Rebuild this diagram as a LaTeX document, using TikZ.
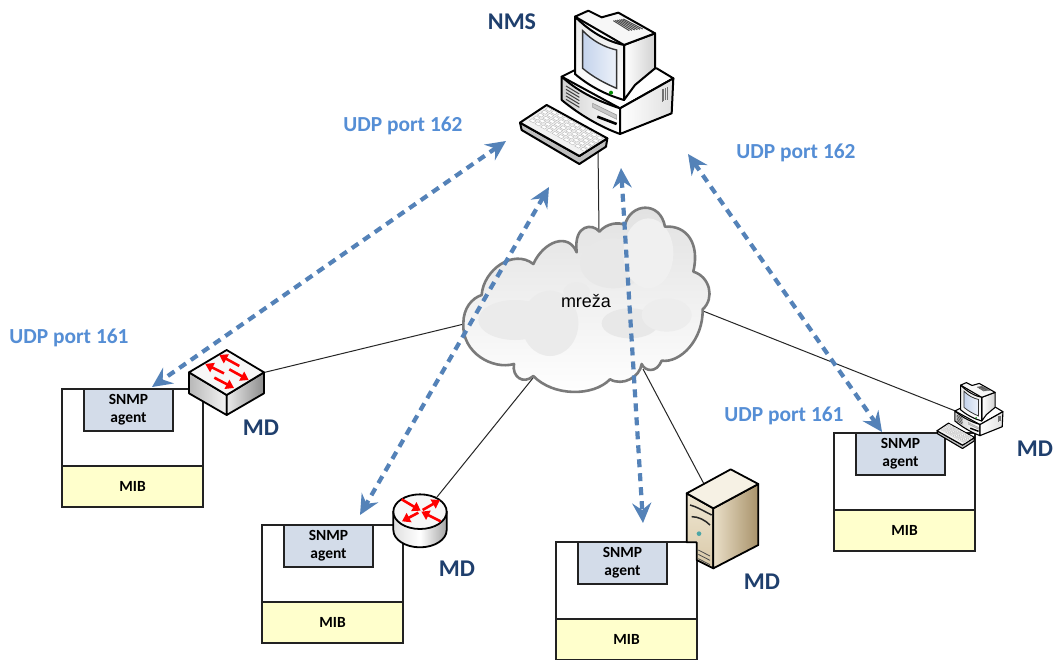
\documentclass[tikz,border=0pt]{standalone}
\usepackage{fontspec}
\setmainfont{Carlito}
\newfontfamily\arialf{Liberation Sans}
\usetikzlibrary{arrows.meta}
\definecolor{udpblue}{HTML}{558ED5}
\definecolor{mdblue}{HTML}{1F3F6D}
\definecolor{arrblue}{HTML}{5482B8}
\definecolor{agentfill}{HTML}{D3DCE9}
\definecolor{mibfill}{HTML}{FFFFCC}
\definecolor{frameink}{HTML}{222222}
\definecolor{srvtop}{HTML}{F6F1E4}
\definecolor{srvfront}{HTML}{EFE6D2}
\definecolor{srvfrontb}{HTML}{D9C9A8}
\definecolor{srvside}{HTML}{EADFC8}
\definecolor{srvsideb}{HTML}{A8926A}
\definecolor{screena}{HTML}{C4D3EC}
\tikzset{
  x=1pt,y=-1pt,
  link/.style={draw=black!85,line width=1pt},
  udparrow/.style={draw=arrblue,line width=4.2pt,dash pattern=on 8pt off 6pt,
    {Stealth[length=20pt,width=19pt,inset=7pt,fill=arrblue]}-{Stealth[length=20pt,width=19pt,inset=7pt,fill=arrblue]}},
  udplabel/.style={text=udpblue,font=\fontsize{21.4}{25}\selectfont\bfseries,inner sep=0pt},
  mdlabel/.style={text=mdblue,font=\fontsize{24}{28}\selectfont\bfseries,inner sep=0pt},
  mdframe/.style={draw=frameink,fill=white,line width=1.6pt,minimum width=141pt,minimum height=118pt,inner sep=0pt,outer sep=0pt},
  mibbox/.style={draw=frameink,fill=mibfill,line width=1.6pt,minimum width=141pt,minimum height=41pt,inner sep=0pt,outer sep=0pt,font=\fontsize{15.5}{18}\selectfont\bfseries},
  agentbox/.style={draw=frameink,fill=agentfill,line width=1.6pt,minimum width=89pt,minimum height=42pt,inner sep=0pt,outer sep=0pt,align=center,font=\fontsize{15.5}{18}\selectfont\bfseries},
  redarrow/.style={draw=red,line width=2.6pt,-{Triangle[length=8pt,width=10pt,fill=red]}},
  iconedge/.style={draw=black,line join=round},
}
\newcommand{\mdbox}[3]{%
  \node[mdframe,anchor=north west] (#1frame) at (#2,#3) {};
  \node[mibbox,anchor=south west] (#1mib) at (#1frame.south west) {MIB};
  \node[agentbox,anchor=north west,xshift=22pt] (#1agent) at (#1frame.north west) {\raisebox{-2pt}{SNMP}\\\raisebox{-2pt}{agent}};
}
% PC icon in zoom coordinates of the big computer
\newcommand{\pcicon}[4]{%
\begin{scope}[shift={(#1,#2)},scale=#3/3,line width=#4]
  % base
  \path[iconedge,fill=white] (185,230) -- (225,210) -- (470,205) -- (520,235) -- (360,325) -- cycle;
  \path[iconedge,left color=black!18,right color=white] (185,230) .. controls (240,280) and (300,305) .. (360,325) -- (360,402) .. controls (300,380) and (240,345) .. (185,300) -- cycle;
  \path[iconedge,left color=white,right color=black!12] (360,325) -- (520,235) -- (515,340) -- (360,402) -- cycle;
  % monitor
  \path[iconedge,left color=white,right color=black!18] (372,135) -- (465,100) -- (465,205) -- (405,255) -- (372,300) -- cycle;
  \path[iconedge,fill=black!3] (225,50) -- (265,32) -- (305,52) -- (355,38) -- (465,100) -- (372,135) -- cycle;
  \path[iconedge,top color=black!8,bottom color=white] (225,50) .. controls (275,100) and (325,125) .. (372,135) -- (372,300) .. controls (320,285) and (270,260) .. (225,222) -- cycle;
  \path[draw=black!80,line width=0.7*#4,left color=screena,right color=screena!30] (248,92) .. controls (280,125) and (315,142) .. (350,150) -- (350,265) .. controls (315,250) and (280,232) .. (248,205) -- cycle;
  \fill[green!55!black] (333,278) circle (6);
  \foreach \k in {0,1,2,3,4}
    \draw[black!75,line width=0.5*#4] (198,{258+\k*10}) -- (238,{282+\k*10});
  \foreach \k in {0,1,2,3,4,5}
    \draw[black!70,line width=0.5*#4] ({340+\k*6},{62-\k*1}) -- ({388+\k*8},{92-\k*1});
  \foreach \k in {0,1,2,3}
    \draw[black!55,line width=0.4*#4] ({486+\k*5},{268-\k*2}) -- ({486+\k*5},{305-\k*2});
  \path[fill=black!22,draw=black!40,line width=0.3*#4] (278,310) -- (350,345) -- (350,358) -- (278,322) -- cycle;
  \draw[black,line width=1.3*#4] (292,350) -- (350,372);
  % keyboard
  \path[iconedge,fill=black!25] (60,368) -- (238,468) -- (322,415) -- (318,440) -- (238,492) -- (65,390) -- cycle;
  \path[iconedge,fill=black!5] (60,368) -- (140,315) -- (322,415) -- (238,468) -- cycle;
  \foreach \i in {0,...,9}
    \foreach \j in {0,...,4}
      \fill[white,draw=black!28,line width=0.2*#4]
        ({88+\i*17+\j*12},{362+\i*9.5-\j*8.5}) -- ++(12,6.5) -- ++(8,-6) -- ++(-12,-6.5) -- cycle;
\end{scope}}
\begin{document}
\begin{tikzpicture}
\useasboundingbox (0,0) rectangle (1055,659);
\fill[white] (0,0) rectangle (1055,659);
% connector ends
\coordinate (nms) at (598,148);
\coordinate (cloudT) at (599,232);
\coordinate (cloudL) at (464,324);
\coordinate (cloudB) at (533,378);
\coordinate (cloudS) at (643,369);
\coordinate (cloudR) at (703,311);
\coordinate (switch) at (262,373);
\coordinate (router) at (437,497);
\coordinate (server) at (704,484);
\coordinate (pc) at (958,412);
% arrow ends
\coordinate (a1a) at (506,141);
\coordinate (a1b) at (152,387);
\coordinate (a2a) at (549,187);
\coordinate (a2b) at (360,515);
\coordinate (a3a) at (621,168);
\coordinate (a3b) at (643,523);
\coordinate (a4a) at (688,154);
\coordinate (a4b) at (882,432);
% links
\draw[link] (nms) -- (cloudT);
\draw[link] (cloudL) -- (switch);
\draw[link] (cloudB) -- (router);
\draw[link] (cloudS) -- (server);
\draw[link] (cloudR) -- (pc);
% cloud
\begin{scope}[shift={(440,190)},scale=1/3]
  \def\cloudpath{(70,400) .. controls (70,355) and (95,325) .. (125,315)
   .. controls (130,240) and (220,175) .. (280,222)
   .. controls (310,155) and (385,125) .. (410,187)
   .. controls (400,100) and (460,100) .. (478,125)
   .. controls (500,100) and (535,95) .. (555,105)
   .. controls (570,40) and (660,30) .. (675,110)
   .. controls (740,105) and (780,160) .. (760,245)
   .. controls (810,260) and (825,325) .. (788,358)
   .. controls (790,450) and (720,520) .. (665,512)
   .. controls (650,550) and (615,545) .. (605,522)
   .. controls (600,560) and (550,590) .. (510,568)
   .. controls (460,620) and (340,620) .. (280,558)
   .. controls (250,585) and (215,560) .. (222,522)
   .. controls (160,540) and (65,490) .. (70,400) -- cycle}
  \path[top color=black!12,bottom color=white] \cloudpath;
  \begin{scope}
    \clip \cloudpath;
    \fill[black!9] (520,220) ellipse (100 and 75);
    \fill[black!6] (625,190) ellipse (75 and 105);
    \fill[black!8] (225,390) ellipse (110 and 60);
    \fill[black!8] (330,400) ellipse (85 and 98);
    \fill[black!8] (410,305) ellipse (40 and 28);
    \fill[black!9] (570,400) ellipse (85 and 45);
    \fill[black!7] (680,375) ellipse (75 and 50);
  \end{scope}
  \draw[draw=black!52,line width=2.6pt,line join=round] \cloudpath;
\end{scope}
\node[font=\arialf\fontsize{18}{22}\selectfont,inner sep=0pt] (cloudlabel) at (586,301) {mreža};
% MD boxes
\mdbox{b1}{62}{389}
\mdbox{b2}{262}{525}
\mdbox{b3}{556}{542}
\mdbox{b4}{834}{433}
% icons
\pcicon{500}{0}{1}{2pt}
\pcicon{928.4}{378}{0.43}{1.1pt}
% switch
\begin{scope}[shift={(50,340)},scale=1/3,line width=1.8pt]
  \path[iconedge,left color=black!28,right color=black!4] (417,97) -- (530,165) -- (530,225) -- (417,160) -- cycle;
  \path[iconedge,left color=black!8,right color=black!45] (530,165) -- (642,97) -- (642,160) -- (530,225) -- cycle;
  \path[iconedge,fill=black!3] (417,97) -- (530,30) -- (642,97) -- (530,165) -- cycle;
  \draw[redarrow] (568,78) -- (508,45);
  \draw[redarrow] (522,100) -- (466,72);
  \draw[redarrow] (538,88) -- (596,120);
  \draw[redarrow] (493,113) -- (552,144);
\end{scope}
% router
\begin{scope}[shift={(250,480)},scale=1/3,line width=1.8pt]
  \path[iconedge,left color=black!12,right color=black!35,middle color=white] (430,95) -- (430,150) arc[start angle=180,end angle=360,x radius=80,y radius=-52] -- (590,95) -- cycle;
  \path[iconedge,fill=black!3] (510,95) ellipse (80 and 52);
  \draw[redarrow] (455,58) -- (512,92);
  \draw[redarrow] (518,90) -- (570,60);
  \draw[redarrow] (505,98) -- (456,124);
  \draw[redarrow] (572,124) -- (514,95);
\end{scope}
% server
\begin{scope}[shift={(550,460)},scale=1/3,line width=1.8pt]
  \path[iconedge,top color=srvfront,bottom color=srvfrontb] (410,100) -- (490,145) -- (490,325) -- (440,300) -- (440,247) -- (410,247) -- cycle;
  \path[iconedge,left color=srvside,right color=srvsideb] (490,145) -- (625,72) -- (625,255) -- (490,325) -- cycle;
  \path[iconedge,fill=srvtop] (410,100) -- (542,28) -- (625,72) -- (490,145) -- cycle;
  \draw[black!85,line width=1.5pt] (420,135) .. controls (440,140) and (455,150) .. (485,165);
  \draw[black!85,line width=1.5pt] (425,170) .. controls (445,170) and (465,180) .. (480,195);
  \fill[teal!70] (447,221) circle (7);
  \foreach \k in {0,1,2}
    \draw[black!70,line width=0.8pt] (445,{270+\k*13}) -- (480,{288+\k*13});
\end{scope}
% UDP arrows
\draw[udparrow] (a1a) -- (a1b);
\draw[udparrow] (a2a) -- (a2b);
\draw[udparrow] (a3a) -- (a3b);
\draw[udparrow] (a4a) -- (a4b);
% labels
\node[udplabel] (u1) at (403,126) {UDP port 162};
\node[udplabel] (u2) at (796,153) {UDP port 162};
\node[udplabel] (u3) at (69,338) {UDP port 161};
\node[udplabel] (u4) at (784,416) {UDP port 161};
\node[mdlabel] (nmslabel) at (512,22) {NMS};
\node[mdlabel] (md1) at (261,428) {MD};
\node[mdlabel] (md2) at (457,569) {MD};
\node[mdlabel] (md3) at (762,582) {MD};
\node[mdlabel] (md4) at (1035,449) {MD};
\end{tikzpicture}
\end{document}
